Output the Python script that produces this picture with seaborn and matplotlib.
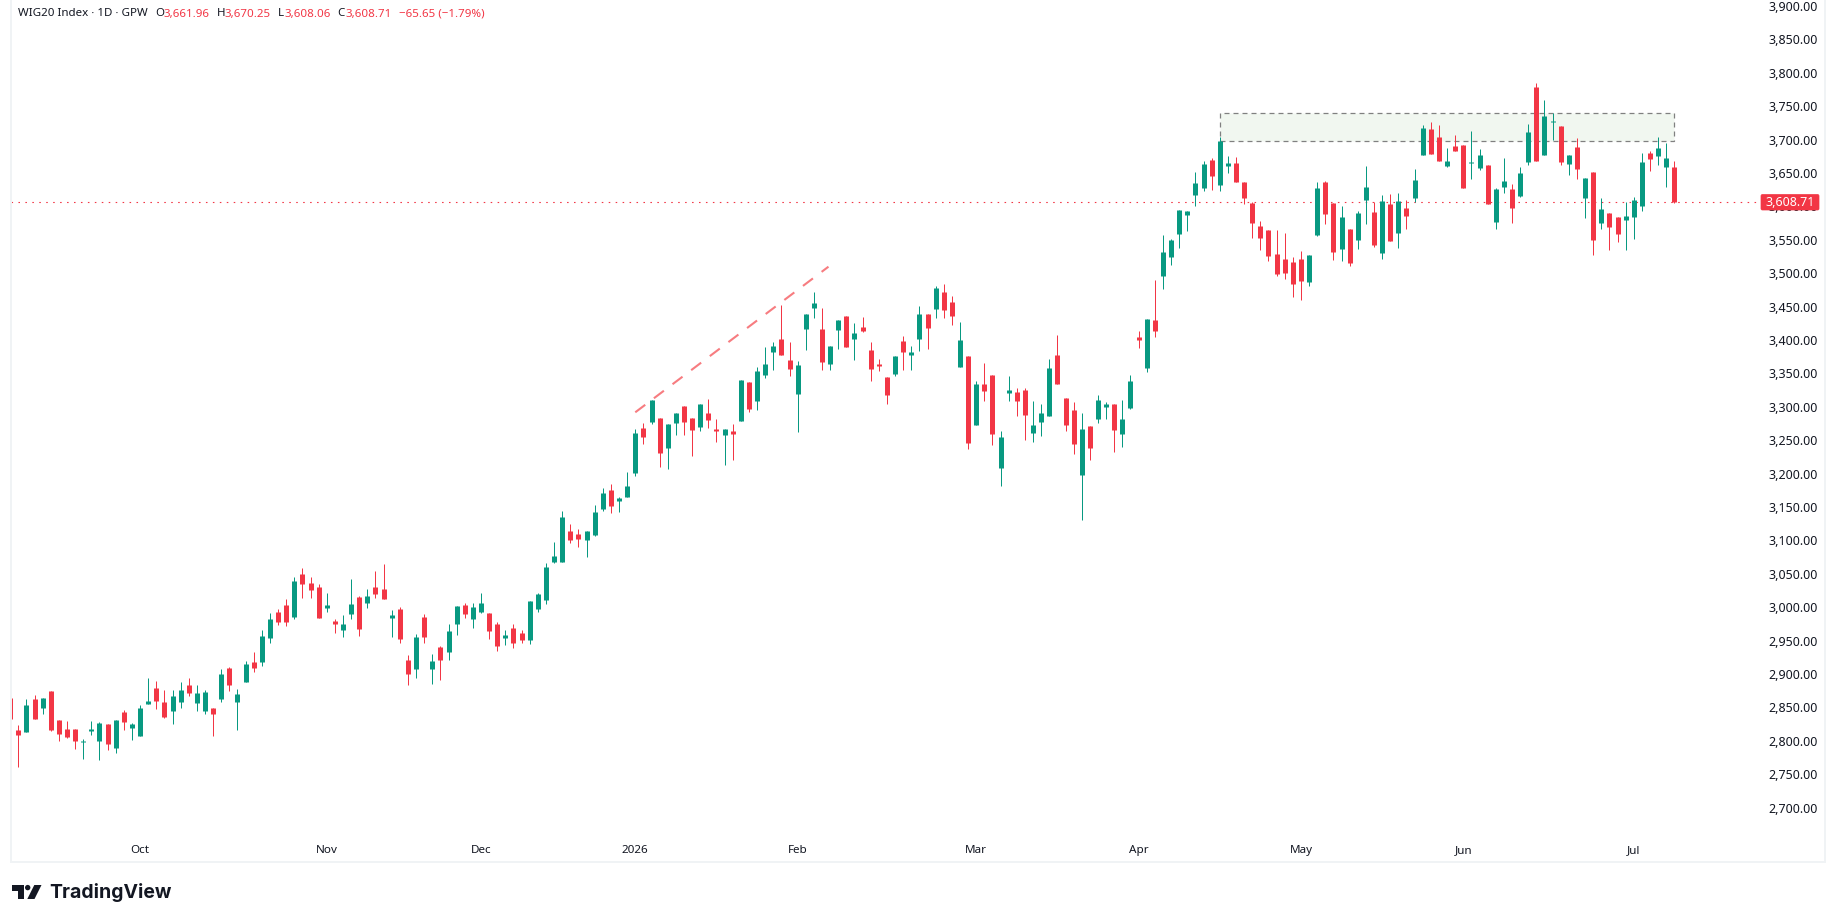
import matplotlib
matplotlib.use("Agg")
import matplotlib.pyplot as plt
from matplotlib.patches import FancyBboxPatch, Polygon, Rectangle
from matplotlib.transforms import Affine2D
import numpy as np
import pandas as pd
import seaborn as sns

# Daily WIG20 session values, oldest first
opens = [2866,2818,2815,2864.5,2851,2876.5,2833,2819.5,2819.5,2800,2816.5,2801.5,2827,2791,2845,2821,2809,2857,2881,2860,
2846.5,2860,2885.5,2858.5,2846.5,2851,2864.5,2911,2860,2890,2920,2920,2956,2995,3005.5,2987.5,3052,3038.5,3032.5,3001,
2981.5,2968,2992,3017.5,3008.5,3032.5,3029.5,2986,2999.5,2923,2909.5,2987.5,2909.5,2942.5,2935,2977,3005.5,2984.5,2995,2993.5,
2977,2956,2971,2963.5,2953,2999.5,3013,3070,3070,3116.5,3112,3103,3111,3150,3177,3160.5,3166.5,3202.5,3270,3279,
3285,3240,3277.5,3303,3285,3271.5,3292.5,3268.5,3259.5,3265.5,3280.5,3339,3310.5,3349.5,3384,3403.5,3372,3321,3418.5,3450,
3418.5,3366,3417,3438,3403.5,3421.5,3387,3366,3346.5,3351,3400.5,3379.5,3403.5,3441,3448.5,3474,3459,3361.5,3378,3274.5,
3336,3349.5,3210,3322.5,3324,3327,3262.5,3279,3288,3379.5,3315,3297,3199.5,3273,3283.5,3301.5,3306,3261,3300,3406.5,
3360,3432,3497.5,3526,3560.5,3589,3619,3629.5,3671.5,3634,3662.5,3667,3638.5,3607,3572.5,3566.5,3530.5,3523,3518.5,3523,
3488.5,3559,3638.5,3607,3538,3568,3551.5,3611.5,3593.5,3532,3605.5,3562,3599.5,3614.5,3679,3718,3706,3662.5,3692.5,3694,
3667,3659.5,3664,3578.5,3631,3628,3617.5,3668.5,3781,3679,3728.5,3722.5,3665.5,3691,3614.5,3653.5,3577,3592,3586,3581.5,
3586,3602.5,3682,3677.5,3661,3661.96]
highs = [2867.5,2825.5,2864.5,2870.5,2866,2876.5,2833,2831.5,2819.5,2804.5,2831.5,2830,2827,2833,2848,2828.5,2855.5,2896,2891.5,2878,
2878,2890,2896,2885.5,2878,2851,2909.5,2912.5,2879.5,2921.5,2935,2968,2993.5,2999.5,3014.5,3047.5,3061,3047.5,3037,3023.5,
2984.5,2990.5,3044.5,3019,3029.5,3056.5,3067,2998,3002.5,2930.5,2962,2992,2932,2944,2977,3004,3008.5,3008.5,3023.5,2993.5,
2980,2968,2977,2968,3011.5,3023.5,3068.5,3100,3146.5,3127,3119.5,3116.5,3154.5,3180,3186,3166.5,3204,3268.5,3277.5,3312,
3285,3276,3292.5,3303,3285,3306,3313.5,3283.5,3268.5,3276,3342,3339,3361.5,3391.5,3399,3454.5,3399,3370.5,3441,3474,
3450,3393,3432,3438,3427.5,3436.5,3399,3373.5,3346.5,3378,3408,3393,3453,3441,3483,3486,3468,3429,3378,3340.5,
3367.5,3349.5,3265.5,3348,3330,3330,3310.5,3306,3373.5,3409.5,3315,3309,3292.5,3273,3319.5,3309,3306,3312,3349.5,3415.5,
3433.5,3492,3559,3553,3596.5,3595,3653.5,3670,3674.5,3706,3677.5,3676,3638.5,3608.5,3580,3566.5,3566.5,3562,3526,3535,
3529,3638.5,3640,3607,3602.5,3568,3595,3662.5,3608.5,3619,3620.5,3622,3611.5,3658,3724,3728.5,3724,3689.5,3709,3694,
3715,3688,3664,3629.5,3674.5,3635.5,3661,3725.5,3787,3761.5,3742,3722.5,3679,3704.5,3644.5,3653.5,3614.5,3592,3586,3608.5,
3616,3682,3685,3706,3697,3670.25]
lows = [2825.5,2762.5,2815,2834.5,2842,2816.5,2801.5,2806,2789.5,2774.5,2810.5,2773,2788,2783.5,2818,2803,2809,2857,2849.5,2836,
2827,2851,2869,2846.5,2842,2809,2860,2876.5,2818,2890,2905,2914,2948.5,2975.5,2974,2984.5,3016,3016,2986,2995,
2963.5,2957.5,2984.5,2959,3001,3016,3014.5,2957.5,2948.5,2885.5,2896,2948.5,2887,2893,2923,2960.5,2986,2971,2993.5,2954.5,
2936.5,2945.5,2941,2948.5,2947,2995,3007,3068.5,3070,3098.5,3092.5,3077.5,3109.5,3147,3144,3145.5,3166.5,3198,3246,3276,
3211.5,3208.5,3259.5,3259.5,3228,3265.5,3270,3249,3214.5,3222,3280.5,3294,3297,3345,3357,3379.5,3348,3264,3387,3435,
3357,3357,3388.5,3391.5,3372,3414,3340.5,3355.5,3306,3348,3357,3357,3385.5,3388.5,3435,3435,3424.5,3361.5,3238.5,3274.5,
3310.5,3244.5,3183,3310.5,3288,3252,3249,3258,3288,3336,3265.5,3231,3133.5,3222,3277.5,3283.5,3234,3241.5,3298.5,3390,
3354,3406.5,3478,3514,3539.5,3565,3602.5,3625,3626.5,3625,3652,3638.5,3605.5,3554.5,3536.5,3520,3497.5,3493,3466,3461.5,
3482.5,3557.5,3575.5,3521.5,3520,3512.5,3538,3575.5,3541,3523,3550,3539.5,3568,3608.5,3679,3680.5,3670,3661,3685,3629.5,
3643,3656.5,3605.5,3568,3622,3577,3616,3664,3670,3679,3701.5,3664,3649,3643,3584.5,3529,3568,3536.5,3548.5,3536.5,
3553,3595,3655,3664,3631,3608.06]
closes = [2834.5,2810.5,2855.5,2834.5,2866,2818,2812,2807.5,2801.5,2801.5,2819.5,2828.5,2797,2833,2830,2827,2851,2861.5,2861.5,2837.5,
2869,2878,2873.5,2873.5,2875,2842,2902,2885.5,2872,2917,2911,2959,2984.5,2980,2980,3041.5,3037,3028,2986,3005.5,
2977,2977,3007,2969.5,3019,3022,3014.5,2990.5,2954.5,2902,2957.5,2957.5,2921.5,2923,2966.5,3004,2992,3002.5,3008.5,2966.5,
2944,2960.5,2948.5,2953,3011.5,3022,3062.5,3079,3137.5,3103,3104.5,3116.5,3145.5,3172.5,3153,3165,3183,3262.5,3256.5,3312,
3232.5,3276,3292.5,3279,3267,3306,3282,3265.5,3268.5,3261,3342,3298.5,3355.5,3366,3393,3379.5,3358.5,3364.5,3441,3457.5,
3369,3393,3432,3391.5,3412.5,3415.5,3358.5,3363,3319.5,3378,3384,3384,3441,3420,3480,3447,3438,3402,3247.5,3336,
3325.5,3261,3256.5,3327,3310.5,3289.5,3274.5,3292.5,3360,3336,3274.5,3246,3268.5,3240,3312,3306,3267,3283.5,3340.5,3402,
3433.5,3415.5,3533.5,3551.5,3596.5,3595,3637,3665.5,3647.5,3700,3667,3638.5,3614.5,3577,3554.5,3527.5,3500.5,3502,3485.5,3490,
3529,3629.5,3590.5,3533.5,3586,3517,3592,3631,3544,3610,3550,3610,3587.5,3641.5,3719.5,3680.5,3670,3670,3685,3629.5,
3668.5,3679,3605.5,3628,3640,3599.5,3652,3713.5,3670,3737.5,3730,3668.5,3679,3658,3644.5,3551.5,3598,3571,3560.5,3587.5,
3611.5,3668.5,3673,3689.5,3674.5,3608.71]

# Calendar labels and the session each one sits on
month_labels = ["Oct", "Nov", "Dec", "2026", "Feb", "Mar", "Apr", "May", "Jun", "Jul"]
month_sessions = [16, 39, 58, 77, 97, 119, 139, 159, 179, 200]
price_ticks = list(range(2700, 3950, 50))

# Resistance zone and rising trend line
zone_sessions = [149, 205]
zone_prices = [3699.7, 3741.6]
trend_sessions = [77, 100.8]
trend_prices = [3294, 3512]
last_price = 3608.71

WIDTH, HEIGHT = 1835, 923
GREEN, RED = "#089981", "#f23645"
INK = "#131722"
FRAME = "#f0f3f5"

sns.set_theme(style="white")
plt.rcParams["font.family"] = ["Noto Sans", "DejaVu Sans"]

fig = plt.figure(figsize=(WIDTH / 100, HEIGHT / 100), dpi=100, facecolor="white")
PANE_L, PANE_R, PANE_B = 11, 1825, 862
ax = fig.add_axes([PANE_L / WIDTH, 1 - PANE_B / HEIGHT, (PANE_R - PANE_L) / WIDTH, PANE_B / HEIGHT])
ax.set_axisbelow(True)

# One session every 8.118 px, 0.668 px to a point of the index
ax.set_xlim(1 + (PANE_L - 18.3) / 8.118, 1 + (PANE_R - 18.3) / 8.118)
ax.set_ylim(3900 - (PANE_B - 7.5) / 0.668, 3900 + 7.5 / 0.668)

candles = pd.DataFrame({"open": opens, "high": highs, "low": lows, "close": closes})
candles["session"] = np.arange(len(candles))
candles["side"] = np.where(candles["close"] >= candles["open"], "up", "down")
palette = {"up": GREEN, "down": RED}

wicks = candles.melt(id_vars=["session", "side"], value_vars=["low", "high"], value_name="price")
bodies = candles.melt(id_vars=["session", "side"], value_vars=["open", "close"], value_name="price")

# Zone and last-price line sit under the candles
ax.add_patch(Rectangle((zone_sessions[0], zone_prices[0]), zone_sessions[1] - zone_sessions[0],
                       zone_prices[1] - zone_prices[0], facecolor="#f1f7f0", edgecolor="#808080",
                       linewidth=0.9, linestyle=(0, (4, 3.2)), zorder=1))

pane_end = 1 + (1760 - 18.3) / 8.118
sns.lineplot(x=[ax.get_xlim()[0], pane_end], y=[last_price, last_price], ax=ax, color=RED,
             linewidth=0.8, linestyle=(0, (1.4, 4.85)), zorder=1.5, legend=False, errorbar=None)

sns.lineplot(data=wicks, x="session", y="price", hue="side", units="session", estimator=None,
             palette=palette, linewidth=0.72, legend=False, ax=ax, zorder=2,
             solid_capstyle="butt", sort=False)
sns.lineplot(data=bodies, x="session", y="price", hue="side", units="session", estimator=None,
             palette=palette, linewidth=3.6, legend=False, ax=ax, zorder=2.2,
             solid_capstyle="butt", sort=False)

sns.lineplot(x=trend_sessions, y=trend_prices, ax=ax, color="#f77c80", linewidth=1.5,
             linestyle=(0, (6, 5.2)), zorder=3, legend=False, errorbar=None)

# Axis labels live inside the pane
ax.yaxis.tick_right()
ax.set_yticks(price_ticks)
ax.set_yticklabels([f"{p:,.2f}" for p in price_ticks], ha="right", va="center", color=INK, fontsize=9)
ax.tick_params(axis="y", length=0, pad=-5)
ax.set_xticks(month_sessions)
ax.set_xticklabels(month_labels, color=INK, fontsize=8.4, va="center")
ax.tick_params(axis="x", length=0, pad=-8)
for tick_label, month in zip(ax.get_xticklabels(), month_labels):
    if month == "2026":
        tick_label.set_fontweight("bold")
ax.set_xlabel("")
ax.set_ylabel("")

sns.despine(ax=ax, top=True, right=False, left=False, bottom=False)
for side in ("left", "right", "bottom"):
    ax.spines[side].set_color(FRAME)
    ax.spines[side].set_linewidth(1.44)

px = Affine2D().scale(1, -1).translate(0, HEIGHT)

# Last-price tag covers most of the 3,600 label
ax.add_patch(FancyBboxPatch((1761, 194.5), 58, 15.5, boxstyle="round,pad=0,rounding_size=1.5",
                            facecolor=RED, edgecolor=RED, linewidth=0.5, transform=px,
                            zorder=6, clip_on=False))
ax.text(1790, 202, f"{last_price:,.2f}", transform=px, color="white", fontsize=9, weight="semibold",
        ha="center", va="center", zorder=7, clip_on=False)

# Header line: instrument, then OHLC readout
readout = [(18.3, "WIG20 Index · 1D · GPW", INK), (155, "O", INK), (163, "3,661.96", RED),
           (216.7, "H", INK), (224.3, "3,670.25", RED), (278.3, "L", INK), (284, "3,608.06", RED),
           (337.7, "C", INK), (345, "3,608.71", RED), (399, "−65.65 (−1.79%)", RED)]
for x_px, label, colour in readout:
    fig.text(x_px / WIDTH, 1 - 14 / HEIGHT, label, color=colour, fontsize=8.3, ha="left", va="center")

# TradingView mark and wordmark
fig.add_artist(Polygon([(12.3, 885), (24.3, 885), (24.3, 899), (18.3, 899), (18.3, 890.5), (12.3, 890.5)],
                       closed=True, transform=px, facecolor=INK, edgecolor="none"))
fig.add_artist(plt.Circle((27.7, 887.6), 2.7, transform=px, facecolor=INK, edgecolor="none"))
fig.add_artist(Polygon([(34.3, 885), (41.5, 885), (34.5, 899), (27.3, 899)],
                       closed=True, transform=px, facecolor=INK, edgecolor="none"))
fig.text(49.5 / WIDTH, 1 - 893 / HEIGHT, "TradingView", color=INK, fontsize=14,
         family="Inter", weight="bold", ha="left", va="center")

fig.savefig("out.png", dpi=100, facecolor="white")
